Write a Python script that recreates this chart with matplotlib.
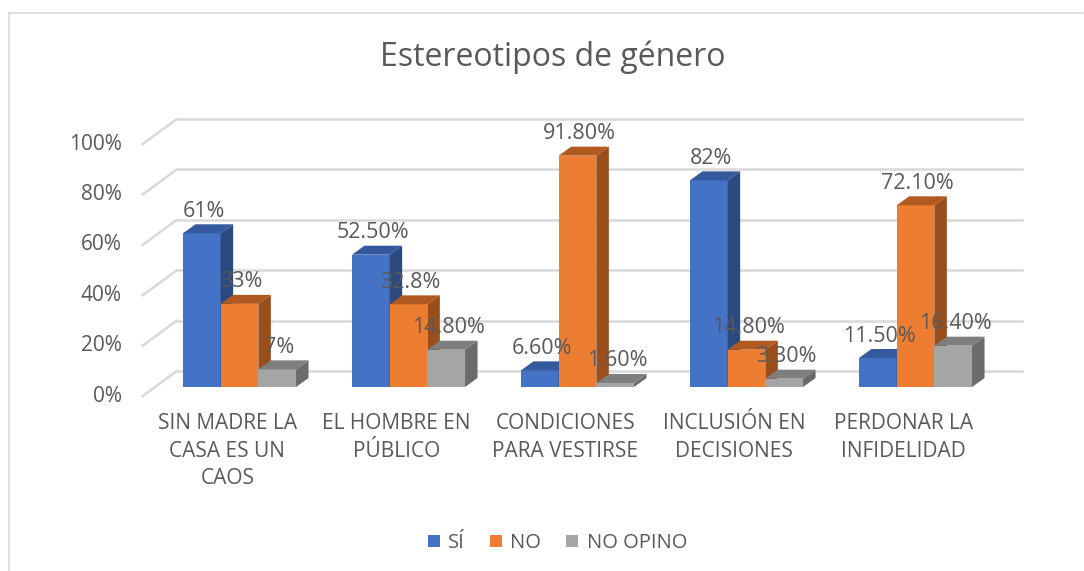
import matplotlib
matplotlib.use("Agg")
import matplotlib.pyplot as plt
from matplotlib.patches import Polygon
from matplotlib.lines import Line2D

# ---- data ----
categories = ["SIN MADRE LA\nCASA ES UN\nCAOS", "EL HOMBRE EN\nPÚBLICO",
              "CONDICIONES\nPARA VESTIRSE", "INCLUSIÓN EN\nDECISIONES",
              "PERDONAR LA\nINFIDELIDAD"]
series_names = ["SÍ", "NO", "NO OPINO"]
si = [0.61, 0.525, 0.066, 0.82, 0.115]
no = [0.33, 0.328, 0.918, 0.148, 0.721]
no_opino = [0.07, 0.148, 0.016, 0.033, 0.164]
labels_si = ["61%", "52.50%", "6.60%", "82%", "11.50%"]
labels_no = ["33%", "32.8%", "91.80%", "14.80%", "72.10%"]
labels_no_opino = ["7%", "14.80%", "1.60%", "3.30%", "16.40%"]
yticks = [0, 0.2, 0.4, 0.6, 0.8, 1.0]
ytick_labels = ["0%", "20%", "40%", "60%", "80%", "100%"]
title = "Estereotipos de género"

face_colors = ["#4472C4", "#ED7D31", "#A5A5A5"]
side_colors = ["#2B4A80", "#9A4E1C", "#6B6B6B"]
top_colors = ["#34599C", "#B05A20", "#7E7E7E"]

TXT = "#595959"
GRID = "#D9D9D9"
plt.rcParams['font.family'] = ['Open Sans', 'DejaVu Sans']

W, H = 1084, 571
fig = plt.figure(figsize=(W / 100, H / 100), dpi=100)

# bar front plane in pixels
x_left_px, x_right_px = 155.0, 1000.0
y0_px, scale_px = 387.0, 252.0
ax = fig.add_axes([x_left_px / W, 1 - y0_px / H, (x_right_px - x_left_px) / W, scale_px / H])
ax.set_xlim(-0.5, len(categories) - 0.5)
ax.set_ylim(0, 1)
ax.axis("off")

pxx = (x_right_px - x_left_px) / len(categories)  # pixels per x unit
pxy = scale_px                                       # pixels per y unit

def dx(p):
    return p / pxx

def dy(p):
    return p / pxy

# offsets (pixels): back wall and front edge relative to bar plane
back = (21.8, 16.0)
front = (-12.2, -9.0)
depth = (12.5, 9.0)

xl, xr = -0.5, len(categories) - 0.5
for v, lab in zip(yticks, ytick_labels):
    ax.add_line(Line2D([xl + dx(back[0]), xr + dx(back[0])], [v + dy(back[1]), v + dy(back[1])],
                       color=GRID, lw=1.8, clip_on=False, zorder=1))
    ax.add_line(Line2D([xl + dx(front[0]), xl + dx(back[0])], [v + dy(front[1]), v + dy(back[1])],
                       color=GRID, lw=1.8, clip_on=False, zorder=1))
    ax.text(xl + dx(front[0]) - dx(21), v + dy(front[1]), lab,
            ha="right", va="center", fontsize=15, color=TXT, clip_on=False)

bw = 0.223
series = [si, no, no_opino]
series_labels = [labels_si, labels_no, labels_no_opino]
offs = [-bw, 0, bw]
for s, (vals, labs) in enumerate(zip(series, series_labels)):
    xs = [i + offs[s] for i in range(len(categories))]
    bars = ax.bar(xs, vals, width=bw, color=face_colors[s], zorder=3 + s, clip_on=False,
                  linewidth=0)
    for b, v, lab in zip(bars, vals, labs):
        x0 = b.get_x()
        x1 = x0 + b.get_width()
        ddx, ddy = dx(depth[0]), dy(depth[1])
        side = Polygon([(x1, 0), (x1, v), (x1 + ddx, v + ddy), (x1 + ddx, ddy)],
                       closed=True, facecolor=side_colors[s], edgecolor="none",
                       zorder=3 + s, clip_on=False)
        top = Polygon([(x0, v), (x1, v), (x1 + ddx, v + ddy), (x0 + ddx, v + ddy)],
                      closed=True, facecolor=top_colors[s], edgecolor="none",
                      zorder=3 + s, clip_on=False)
        ax.add_patch(side)
        ax.add_patch(top)
        ax.text((x0 + x1) / 2 + dx(2), v + dy(22), lab, ha="center", va="center",
                fontsize=15.5, color=TXT, zorder=10, clip_on=False)

# category labels
for i, c in enumerate(categories):
    ax.text(i + dx(front[0]), dy(front[1]) - dy(17), c, ha="center", va="top",
            fontsize=15, color=TXT, linespacing=1.42, clip_on=False)

fig.text(553 / W, 1 - 57 / H, title, ha="center", va="center", fontsize=23, color=TXT)

handles = [Line2D([], [], marker="s", linestyle="none", markersize=9,
                  markerfacecolor=face_colors[k], markeredgewidth=0) for k in range(3)]
fig.legend(handles, series_names, loc="center", bbox_to_anchor=(557 / W, 1 - 543 / H),
           ncol=3, frameon=False, fontsize=14.5, labelcolor=TXT, handlelength=0.7,
           handletextpad=0.35, columnspacing=1.2)

# chart border
fig.add_artist(Line2D([9 / W, 9 / W], [0, 1 - 13 / H], color=GRID, lw=1.2))
fig.add_artist(Line2D([9 / W, 1083 / W], [1 - 13 / H, 1 - 13 / H], color=GRID, lw=1.2))

fig.savefig("out.png", dpi=100)
